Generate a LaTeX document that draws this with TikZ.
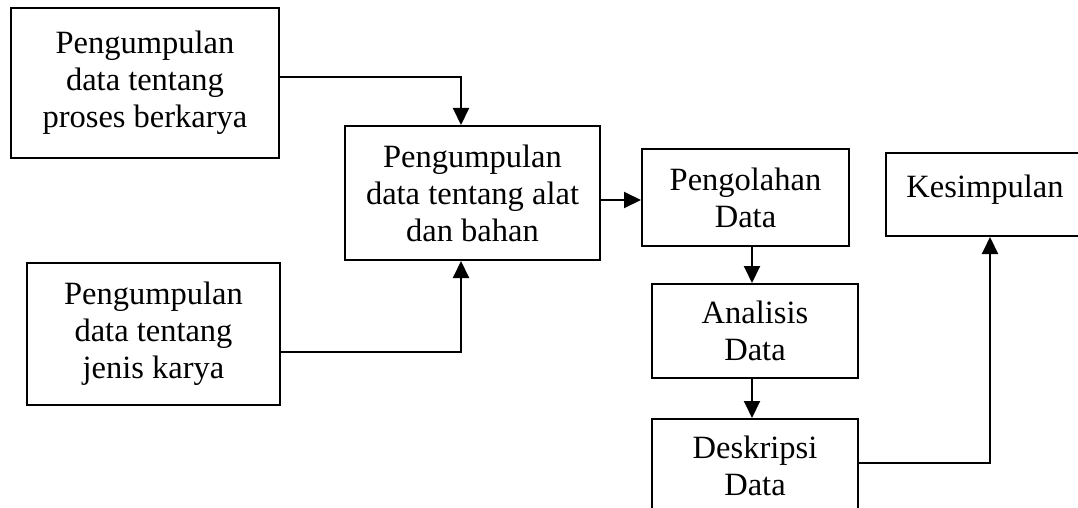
\documentclass[tikz,border=0pt]{standalone}
\usepackage{fontspec}
\setmainfont{Liberation Serif}
\usetikzlibrary{arrows.meta}

\begin{document}
\begin{tikzpicture}[
    x=1pt, y=-1pt,
    box/.style={draw, line width=2pt, inner sep=0pt, align=center, font=\fontsize{32.5}{37}\selectfont},
    arr/.style={-{Triangle[length=17pt,width=16pt]}, line width=2pt}
]
    \useasboundingbox (0,0) rectangle (1078,508);

    % Kotak pengumpulan data
    \node[box, minimum width=268pt, minimum height=150pt] (proses) at (145,83) {Pengumpulan\\data tentang\\proses berkarya};
    \node[box, minimum width=255pt, minimum height=134pt] (alat) at (472.5,193) {Pengumpulan\\data tentang alat\\dan bahan};
    \node[box, minimum width=253pt, minimum height=142pt] (jenis) at (153.5,334) {Pengumpulan\\data tentang\\jenis karya};

    % Kotak pengolahan sampai kesimpulan
    \node[box, minimum width=207pt, minimum height=97pt] (olah) at (745.5,197.5) {Pengolahan\\Data};
    \node[box, minimum width=206pt, minimum height=94pt] (analisis) at (755,331) {Analisis\\Data};
    \node[box, minimum width=206pt, minimum height=94pt] (deskripsi) at (755,466) {Deskripsi\\Data};
    \node[box, minimum width=198pt, minimum height=83pt, text depth=16pt] (kesimpulan) at (985,194.5) {Kesimpulan};

    % Panah
    \draw[arr] ([yshift=6pt]proses.east) -| ([xshift=-11.5pt]alat.north);
    \draw[arr] ([yshift=-18pt]jenis.east) -| ([xshift=-11.5pt]alat.south);
    \draw[arr] ([yshift=-7pt]alat.east) -- ([yshift=-7pt]alat.east -| olah.west);
    \draw[arr] ([xshift=-3pt]analisis.north |- olah.south) -- ([xshift=-3pt]analisis.north);
    \draw[arr] ([xshift=-3pt]analisis.south) -- ([xshift=-3pt]deskripsi.north);
    \draw[arr] ([yshift=3pt]deskripsi.east) -| ([xshift=5pt]kesimpulan.south);
\end{tikzpicture}
\end{document}
